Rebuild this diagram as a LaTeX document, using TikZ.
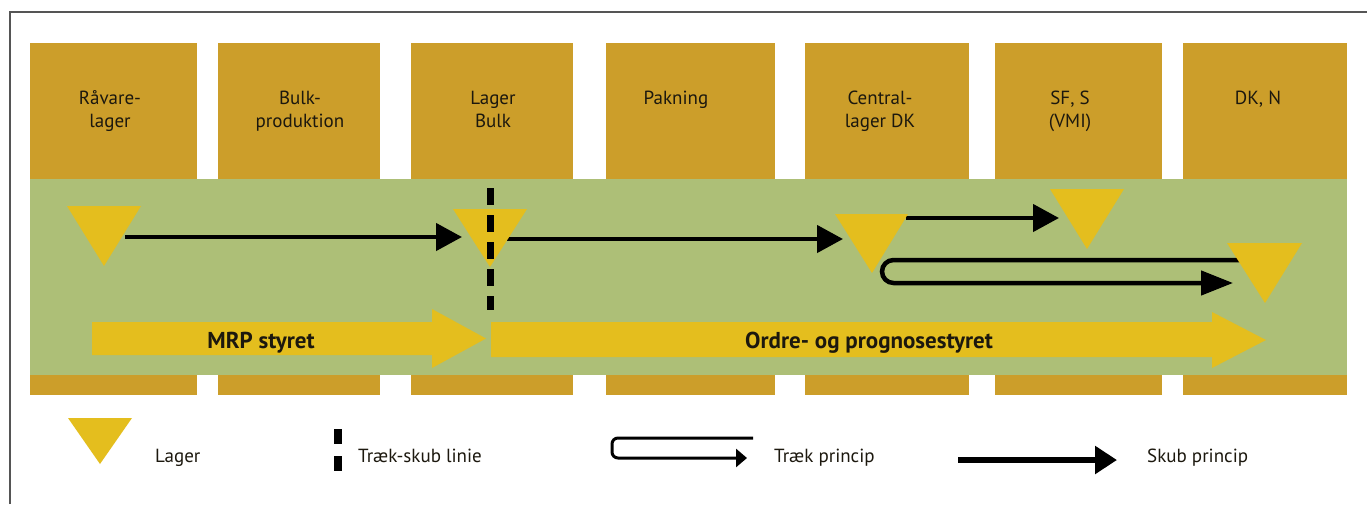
\documentclass[tikz,border=0pt]{standalone}
\usepackage{fontspec}
\setmainfont{PT Sans}
\usetikzlibrary{arrows.meta}
\definecolor{stageC}{RGB}{204,158,42}
\definecolor{bandC}{RGB}{173,191,119}
\definecolor{stockC}{RGB}{228,190,30}
\definecolor{frameC}{RGB}{85,85,85}
\definecolor{inkC}{RGB}{28,24,14}
\begin{document}
\begin{tikzpicture}[x=1pt,y=-1pt,
  stagelbl/.style={anchor=base,align=center,inner sep=0pt,text=inkC,
    font=\fontsize{19}{22.5}\selectfont},
  flowlbl/.style={anchor=base,inner sep=0pt,text=inkC,
    font=\fontsize{23}{26}\selectfont\bfseries},
  keylbl/.style={anchor=base west,inner sep=0pt,text=inkC,
    font=\fontsize{19}{22}\selectfont},
  pushline/.style={line width=4.5pt,-{Triangle[length=26pt,width=27pt]}},
  pullline/.style={line width=4.5pt,rounded corners=11.5pt,
    -{Triangle[length=32pt,width=24pt]}},
  splitline/.style={line width=7pt,dash pattern=on 17pt off 10pt}]

\useasboundingbox (0,0) rectangle (1367,504);
\fill[white] (0,0) rectangle (1367,504);

% frame
\draw[frameC,line width=1.6pt] (10,504) -- (10,12) -- (1367,12);

% green flow band and stage columns
\fill[bandC] (30,179) rectangle (1347,375);
\foreach \l/\r in {30/197,218/380,411/573,606/775,805/969,995/1162,1183/1347}{
  \fill[stageC] (\l,43) rectangle (\r,179);
  \fill[stageC] (\l,375) rectangle (\r,395);
}

% stage names (base anchor sits on the last line)
\node[stagelbl] (s1) at (110,127) {Råvare-\\lager};
\node[stagelbl] (s2) at (300,127) {Bulk-\\produktion};
\node[stagelbl] (s3) at (493,127) {Lager\\Bulk};
\node[stagelbl] (s4) at (676,104) {Pakning};
\node[stagelbl] (s5) at (880,127) {Central-\\lager DK};
\node[stagelbl] (s6) at (1070,127) {SF, S\\(VMI)};
\node[stagelbl] (s7) at (1258,104) {DK, N};

% steering arrows
\fill[stockC] (92,322) -- (432,322) -- (432,309) -- (486,338.5)
  -- (432,368) -- (432,355) -- (92,355) -- cycle;
\fill[stockC] (491,322) -- (1212,322) -- (1212,312) -- (1266,340)
  -- (1212,368) -- (1212,357) -- (491,357) -- cycle;
\node[flowlbl] (mrp) at (261,348) {MRP styret};
\node[flowlbl] (ord) at (869,348) {Ordre- og prognosestyret};

% connector end points
\coordinate (p1a) at (125,237);  \coordinate (p1b) at (462,237);
\coordinate (p2a) at (507,239);  \coordinate (p2b) at (843,239);
\coordinate (p3a) at (906,218);  \coordinate (p3b) at (1059,218);
\coordinate (u0) at (1250,260);  \coordinate (u1) at (882,260);
\coordinate (u2) at (882,283);   \coordinate (u3) at (1233,283);
\coordinate (dtop) at (490,188); \coordinate (dbot) at (490,310);

% push and pull flows
\draw[pushline] (p1a) -- (p1b);
\draw[pushline] (p2a) -- (p2b);
\draw[pushline] (p3a) -- (p3b);
\draw[pullline] (u0) -- (u1) -- (u2) -- (u3);

% stock points
\fill[stockC] (67,206) -- (141,206) -- (104,266) -- cycle;
\fill[stockC] (453,209) -- (527,209) -- (490,267) -- cycle;
\fill[stockC] (835,214) -- (908,214) -- (872,273) -- cycle;
\fill[stockC] (1050,189) -- (1124,189) -- (1087,249) -- cycle;
\fill[stockC] (1227,243) -- (1302,243) -- (1265,303) -- cycle;

% pull/push split
\draw[splitline] (dtop) -- (dbot);

% key
\fill[stockC] (68,418) -- (132,418) -- (100,464) -- cycle;
\node[keylbl] (k1) at (155,462) {Lager};

\coordinate (ka) at (338,429); \coordinate (kb) at (338,472);
\draw[line width=8pt,dash pattern=on 15pt off 12pt] (ka) -- (kb);
\node[keylbl] (k2) at (358,462) {Træk-skub linie};

\coordinate (q0) at (753,438); \coordinate (q1) at (612,438);
\coordinate (q2) at (612,458); \coordinate (q3) at (747,458);
\draw[line width=3pt,rounded corners=6pt,-{Triangle[length=11pt,width=18pt]}]
  (q0) -- (q1) -- (q2) -- (q3);
\node[keylbl] (k3) at (774,462) {Træk princip};

\coordinate (r0) at (958,460); \coordinate (r1) at (1117,460);
\draw[line width=6pt,-{Triangle[length=22pt,width=27pt]}] (r0) -- (r1);
\node[keylbl] (k4) at (1147,462) {Skub princip};
\end{tikzpicture}
\end{document}
